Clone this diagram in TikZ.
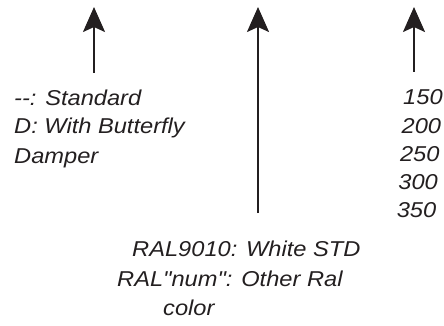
\documentclass[tikz,border=0pt]{standalone}
\usepackage{fontspec}
\newfontfamily\lblfont{Liberation Sans}[FakeStretch=1.1]
\usepackage{tikz}
\usetikzlibrary{arrows.meta}
\definecolor{ink}{HTML}{231F20}

\begin{document}
\begin{tikzpicture}
                [
                x = 1pt, y = -1pt,
                lbl/.style   = {anchor=base west, inner sep=0pt, text=ink,
                                font=\lblfont\itshape\fontsize{21.5}{28}\selectfont},
                pointer/.style = {draw=ink, line width=2pt,
                                -{Stealth[length=25pt,width=22pt,inset=5pt]}}
                ]
                \useasboundingbox (0,0) rectangle (444,326);
                % option codes, left
                \node [lbl] (std)  at (14,106) {--: Standard};
                \node [lbl] (butt) at (14,134) {D: With Butterfly};
                \node [lbl] (damp) at (14,163) {Damper};
                % sizes, right
                \foreach \size [count=\i] in {150,200,250,300,350}
                        \node [lbl] (size-\i) at (404.6-1.6*\i, 77+28*\i) {\size};
                % colours, bottom
                \node [lbl] (white) at (132,256) {RAL9010: White STD};
                \node [lbl] (other) at (117,286) {RAL"num": Other Ral};
                \node [lbl] (color) at (163,315) {color};
                % arrows
                \coordinate (foot-a) at (94,73);
                \coordinate (tip-a)  at (94,7);
                \coordinate (foot-b) at (258,213);
                \coordinate (tip-b)  at (258,7);
                \coordinate (foot-c) at (414,72);
                \coordinate (tip-c)  at (414,7);
                \path
                        (foot-a) edge [pointer] (tip-a)
                        (foot-b) edge [pointer] (tip-b)
                        (foot-c) edge [pointer] (tip-c);
        \end{tikzpicture}
\end{document}
